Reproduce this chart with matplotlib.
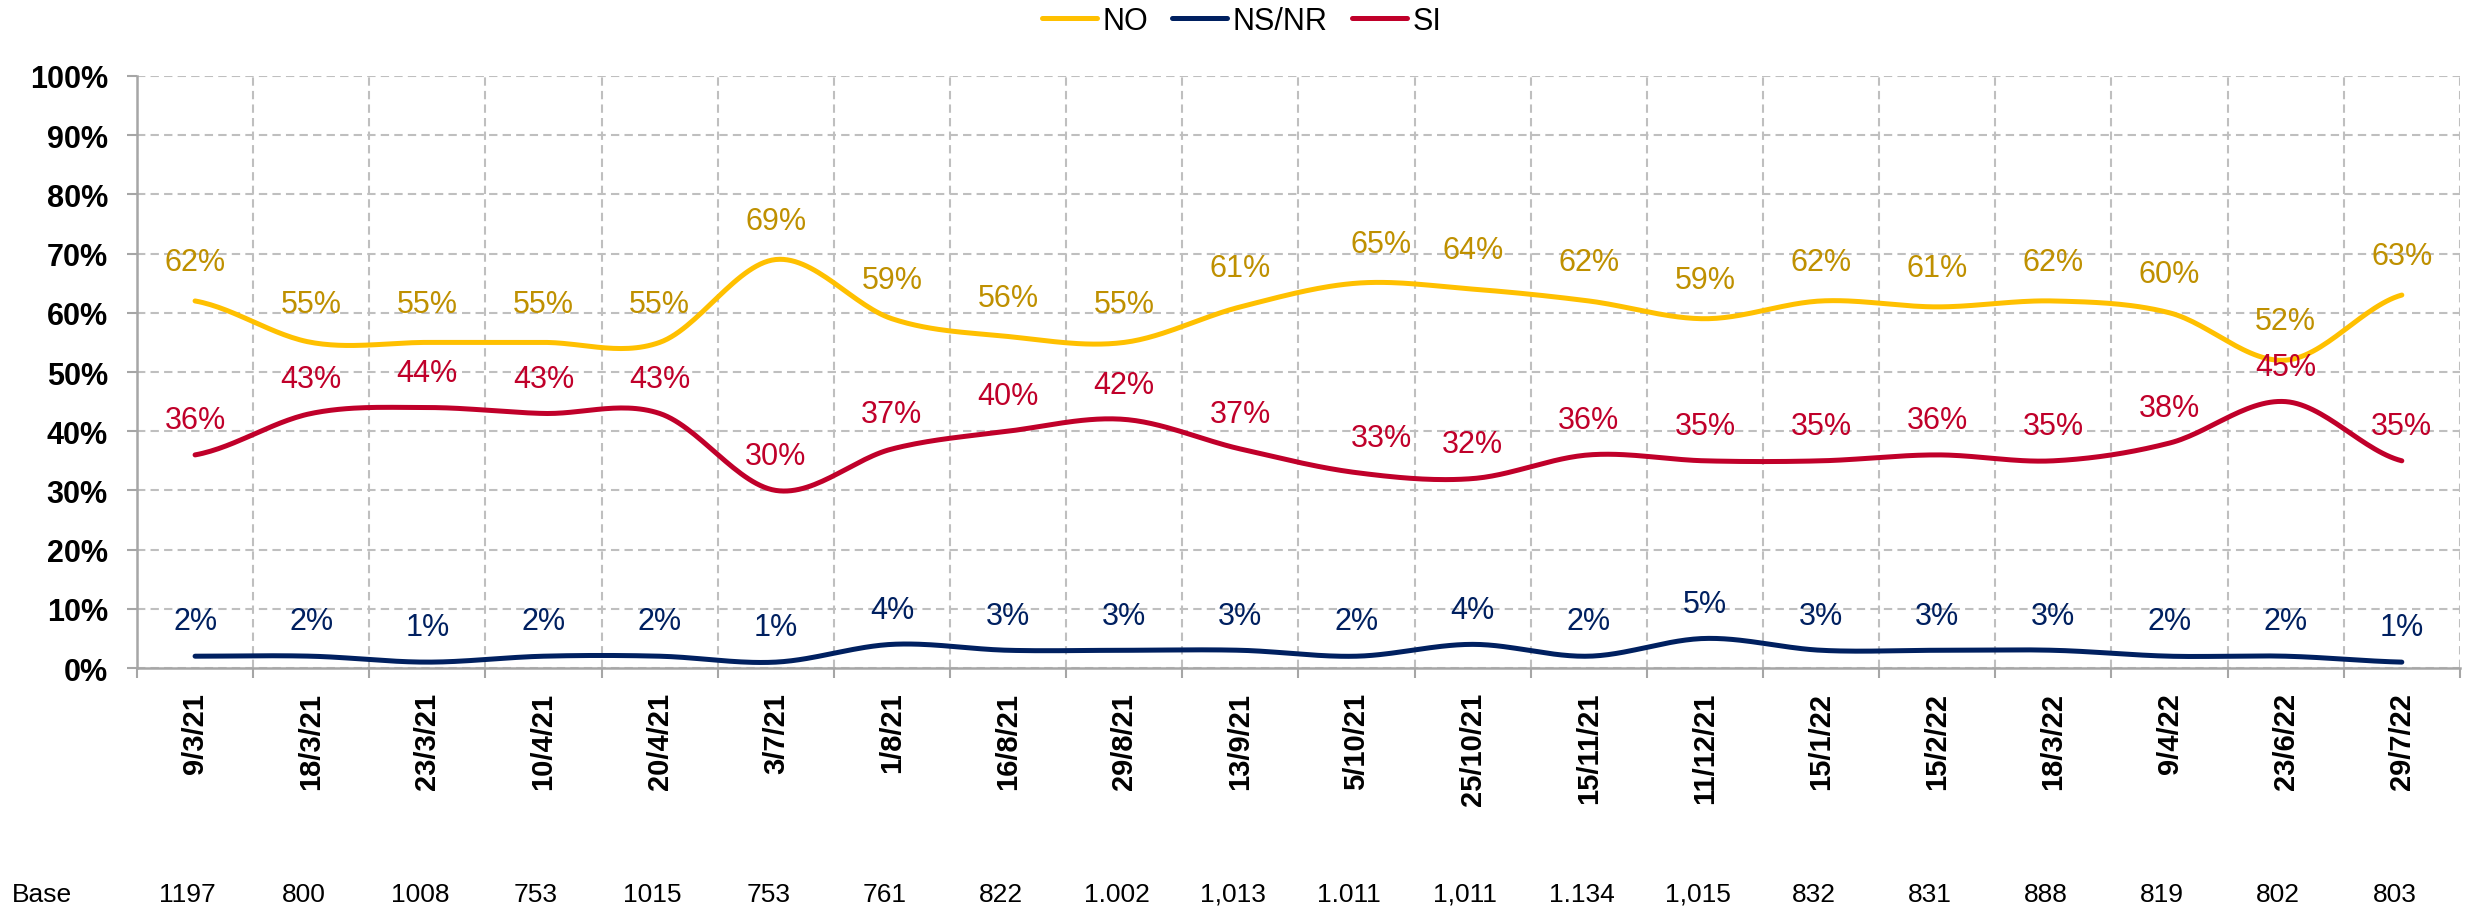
import numpy as np
import matplotlib
matplotlib.use("Agg")
import matplotlib.pyplot as plt
from matplotlib.ticker import FixedLocator, FuncFormatter

plt.rcParams['font.family'] = ['Liberation Sans', 'DejaVu Sans']

# data
fechas = ['9/3/21', '18/3/21', '23/3/21', '10/4/21', '20/4/21', '3/7/21', '1/8/21', '16/8/21',
          '29/8/21', '13/9/21', '5/10/21', '25/10/21', '15/11/21', '11/12/21', '15/1/22',
          '15/2/22', '18/3/22', '9/4/22', '23/6/22', '29/7/22']
no_vals = [62, 55, 55, 55, 55, 69, 59, 56, 55, 61, 65, 64, 62, 59, 62, 61, 62, 60, 52, 63]
nsnr_vals = [2, 2, 1, 2, 2, 1, 4, 3, 3, 3, 2, 4, 2, 5, 3, 3, 3, 2, 2, 1]
si_vals = [36, 43, 44, 43, 43, 30, 37, 40, 42, 37, 33, 32, 36, 35, 35, 36, 35, 38, 45, 35]
base = ['1197', '800', '1008', '753', '1015', '753', '761', '822', '1.002', '1,013', '1.011',
        '1,011', '1.134', '1,015', '832', '831', '888', '819', '802', '803']


def smooth(y, n=30):
    # catmull-rom curve through the points, like excel's smoothed line
    y = np.asarray(y, dtype=float)
    p = np.concatenate([[y[0]], y, [y[-1]]])
    xs, ys = [], []
    t = np.linspace(0, 1, n, endpoint=False)
    for i in range(len(y) - 1):
        p0, p1, p2, p3 = p[i], p[i + 1], p[i + 2], p[i + 3]
        seg = 0.5 * ((2 * p1) + (-p0 + p2) * t + (2 * p0 - 5 * p1 + 4 * p2 - p3) * t ** 2
                     + (-p0 + 3 * p1 - 3 * p2 + p3) * t ** 3)
        xs.extend(i + t)
        ys.extend(seg)
    xs.append(len(y) - 1)
    ys.append(y[-1])
    return np.array(xs), np.array(ys)


fig = plt.figure(figsize=(24.73, 9.12), dpi=100)
ax = fig.add_axes([0.0554, 0.2664, 0.9393, 0.6492])

series = [
    ('NO', no_vals, '#FFC000', '#BF9000', 28),
    ('NS/NR', nsnr_vals, '#002060', '#002060', 25),
    ('SI', si_vals, '#C0002A', '#C0002A', 25),
]
x = np.arange(len(fechas))
for name, vals, col, lcol, off in series:
    sx, sy = smooth(vals)
    ax.plot(sx, sy, color=col, lw=3.6, solid_capstyle='round', label=name, zorder=3)
    for xi, v in zip(x, vals):
        # labels at 5/10 were nudged right in the original
        dx = 18 if (xi == 10 and name != 'NS/NR') else 0
        ax.annotate(f'{v}%', (xi, v), xytext=(dx, off), textcoords='offset points',
                    ha='center', va='center', fontsize=22, color=lcol, zorder=4)

ax.set_xlim(-0.5, len(fechas) - 0.5)
ax.set_ylim(0, 100)
ax.set_yticks(np.arange(0, 101, 10))
ax.yaxis.set_major_formatter(FuncFormatter(lambda v, p: f'{v:.0f}%'))
ax.set_xticks(x)
ax.set_xticklabels(fechas, rotation=90, fontsize=21, fontweight='bold')
ax.xaxis.set_minor_locator(FixedLocator(np.arange(-0.5, len(fechas), 1)))
ax.tick_params(axis='x', which='major', length=0, pad=17)
ax.tick_params(axis='x', which='minor', length=7, color='#A6A6A6', width=1.5)
ax.tick_params(axis='y', length=7, color='#A6A6A6', width=1.5, pad=14, labelsize=22)
for lab in ax.get_yticklabels():
    lab.set_fontweight('bold')

ax.grid(axis='y', which='major', color='#BFBFBF', ls=(0, (4, 2.5)), lw=1.5)
ax.grid(axis='x', which='minor', color='#BFBFBF', ls=(0, (4, 2.5)), lw=1.5)
for s in ['top', 'right']:
    ax.spines[s].set_visible(False)
for s in ['left', 'bottom']:
    ax.spines[s].set_color('#A6A6A6')
    ax.spines[s].set_linewidth(1.8)

ax.legend(loc='center', bbox_to_anchor=(0.502, 0.976), bbox_transform=fig.transFigure,
          ncol=3, frameon=False, fontsize=22, handlelength=1.8, handletextpad=0.18,
          columnspacing=0.8, borderpad=0)

# base row under the chart
fig.text(0.005, 0.019, 'Base', fontsize=19, ha='left', va='center')
for xi, b in zip(x, base):
    xf = ax.transData.transform((xi, 0))[0] / fig.bbox.width
    fig.text(xf - 0.003, 0.019, b, fontsize=19, ha='center', va='center')

fig.savefig('out.png', dpi=100)
